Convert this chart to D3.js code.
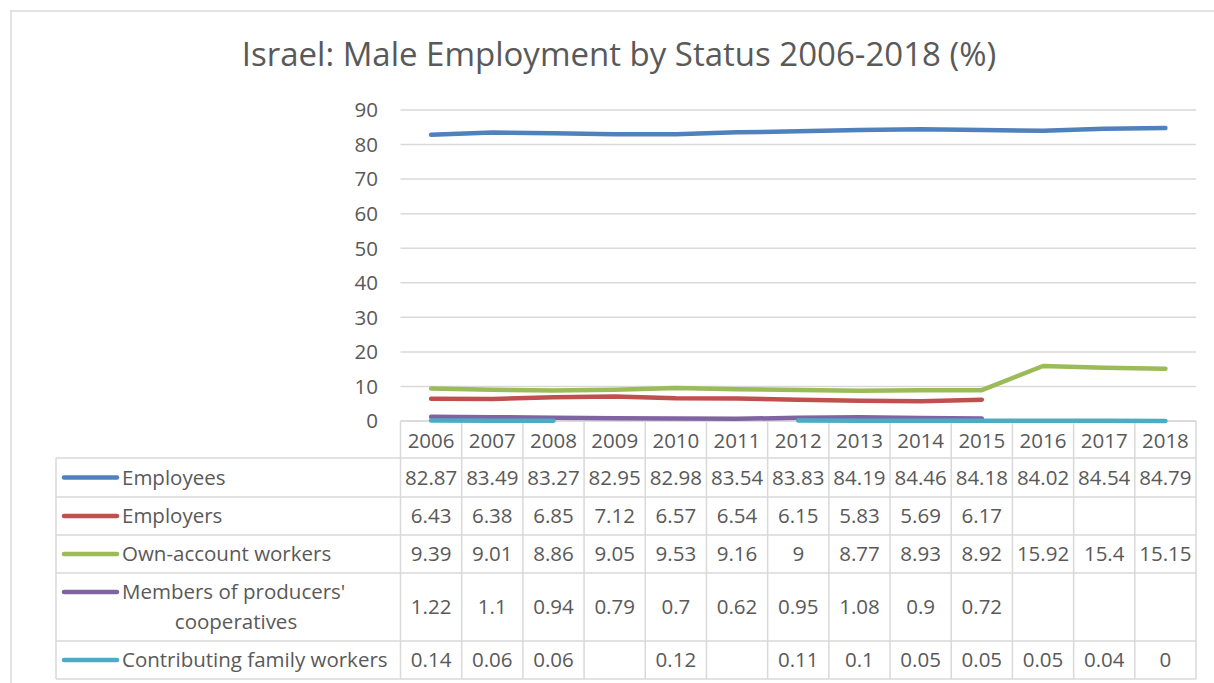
<!DOCTYPE html>
<html>
<head>
<meta charset="utf-8">
<script src="https://cdn.jsdelivr.net/npm/d3@7"></script>
<style>
  body { margin: 0; background: #fff; }
  svg text { font-family: "Open Sans", sans-serif; fill: #595959; }
</style>
</head>
<body>
<div id="chart"></div>
<script>
// Data
var years = ["2006","2007","2008","2009","2010","2011","2012","2013","2014","2015","2016","2017","2018"];
var employees = [82.87,83.49,83.27,82.95,82.98,83.54,83.83,84.19,84.46,84.18,84.02,84.54,84.79];
var employers = [6.43,6.38,6.85,7.12,6.57,6.54,6.15,5.83,5.69,6.17,null,null,null];
var ownAccount = [9.39,9.01,8.86,9.05,9.53,9.16,9,8.77,8.93,8.92,15.92,15.4,15.15];
var cooperatives = [1.22,1.1,0.94,0.79,0.7,0.62,0.95,1.08,0.9,0.72,null,null,null];
var family = [0.14,0.06,0.06,null,0.12,null,0.11,0.1,0.05,0.05,0.05,0.04,0];
var yTicks = [0,10,20,30,40,50,60,70,80,90];

var series = [
  {name: ["Employees"], values: employees, color: "#4F81BD"},
  {name: ["Employers"], values: employers, color: "#C0504D"},
  {name: ["Own-account workers"], values: ownAccount, color: "#9BBB59"},
  {name: ["Members of producers'", "cooperatives"], values: cooperatives, color: "#8064A2"},
  {name: ["Contributing family workers"], values: family, color: "#4BACC6"}
];

var W = 1214, H = 683;
var plot = {left: 400.5, right: 1196, top: 110, bottom: 421};
var rowEdges = [421, 458, 497, 535, 573, 641, 679];   // header + 5 series rows
var legendLeft = 56;
var gridColor = "#d9d9d9";
var fs = "20.5px";

var svg = d3.select("#chart").append("svg")
  .attr("width", W).attr("height", H);

// outer chart border
svg.append("rect")
  .attr("x", 11).attr("y", 11)
  .attr("width", W).attr("height", H)
  .attr("fill", "none").attr("stroke", gridColor).attr("stroke-width", 1.5);

svg.append("text")
  .attr("x", 619).attr("y", 66)
  .attr("text-anchor", "middle")
  .style("font-size", "33px")
  .text("Israel: Male Employment by Status 2006-2018 (%)");

var x = d3.scaleBand().domain(years).range([plot.left, plot.right]);
var y = d3.scaleLinear().domain([0, 90]).range([plot.bottom, plot.top]);

// gridlines
svg.append("g").selectAll("line")
  .data(yTicks)
  .enter().append("line")
  .attr("x1", plot.left).attr("x2", plot.right)
  .attr("y1", function(d){ return y(d); })
  .attr("y2", function(d){ return y(d); })
  .attr("stroke", gridColor).attr("stroke-width", 1.5);

// y axis labels
svg.append("g").selectAll("text")
  .data(yTicks)
  .enter().append("text")
  .attr("x", 378)
  .attr("y", function(d){ return y(d); })
  .attr("dy", "0.36em")
  .attr("text-anchor", "end")
  .style("font-size", fs)
  .text(function(d){ return d; });

// data table grid
var table = svg.append("g")
  .attr("stroke", gridColor).attr("stroke-width", 1.5);

rowEdges.forEach(function(ry, i){
  table.append("line")
    .attr("x1", i === 0 ? plot.left : legendLeft).attr("x2", plot.right)
    .attr("y1", ry).attr("y2", ry);
});
table.append("line")
  .attr("x1", legendLeft).attr("x2", legendLeft)
  .attr("y1", rowEdges[1]).attr("y2", rowEdges[rowEdges.length - 1]);
years.forEach(function(yr){
  table.append("line")
    .attr("x1", x(yr)).attr("x2", x(yr))
    .attr("y1", rowEdges[0]).attr("y2", rowEdges[rowEdges.length - 1]);
});
table.append("line")
  .attr("x1", plot.right).attr("x2", plot.right)
  .attr("y1", rowEdges[0]).attr("y2", rowEdges[rowEdges.length - 1]);

// year header
svg.append("g").selectAll("text")
  .data(years)
  .enter().append("text")
  .attr("x", function(d){ return x(d) + x.bandwidth() / 2; })
  .attr("y", (rowEdges[0] + rowEdges[1]) / 2 + 1)
  .attr("dy", "0.36em")
  .attr("text-anchor", "middle")
  .style("font-size", fs)
  .text(function(d){ return d; });

// rows: legend key, label, values
series.forEach(function(s, i){
  var top = rowEdges[i + 1], bottom = rowEdges[i + 2];
  var cy = (top + bottom) / 2;
  var labelY = s.name.length > 1 ? top + 19 : cy;

  svg.append("line")
    .attr("x1", 64).attr("x2", 117)
    .attr("y1", labelY).attr("y2", labelY)
    .attr("stroke", s.color).attr("stroke-width", 4.5)
    .attr("stroke-linecap", "round");

  svg.append("text")
    .attr("x", 122).attr("y", labelY)
    .attr("dy", "0.36em")
    .style("font-size", fs)
    .text(s.name[0]);
  if (s.name.length > 1) {
    svg.append("text")
      .attr("x", 236).attr("y", labelY + 30)
      .attr("dy", "0.36em")
      .attr("text-anchor", "middle")
      .style("font-size", fs)
      .text(s.name[1]);
  }

  svg.append("g").selectAll("text")
    .data(s.values)
    .enter().append("text")
    .attr("x", function(d, j){ return x(years[j]) + x.bandwidth() / 2; })
    .attr("y", cy)
    .attr("dy", "0.36em")
    .attr("text-anchor", "middle")
    .style("font-size", fs)
    .text(function(d){ return d === null ? "" : d; });
});

// lines (no markers, so a point with gaps on both sides draws nothing)
series.forEach(function(s){
  var v = s.values;
  var line = d3.line()
    .defined(function(d, j){
      return d !== null && ((j > 0 && v[j - 1] !== null) || (j < v.length - 1 && v[j + 1] !== null));
    })
    .x(function(d, j){ return x(years[j]) + x.bandwidth() / 2; })
    .y(function(d){ return y(d); });

  svg.append("path")
    .datum(v)
    .attr("d", line)
    .attr("fill", "none")
    .attr("stroke", s.color)
    .attr("stroke-width", 4.5)
    .attr("stroke-linecap", "round")
    .attr("stroke-linejoin", "round");
});
</script>
</body>
</html>
